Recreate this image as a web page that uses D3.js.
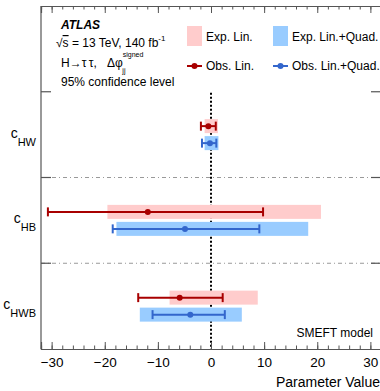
<!DOCTYPE html>
<html>
<head>
    <meta charset="utf-8">
    <script src="https://d3js.org/d3.v7.min.js"></script>
    <style>
        body { margin: 0; background: #fff; }
        text { font-family: "Liberation Sans", Arial, sans-serif; }
    </style>
</head>
<body>
<script>
// coefficients, top to bottom
var categories = ["cHW", "cHB", "cHWB"];
var subLabels = ["HW", "HB", "HWB"];

// expected 95% intervals (boxes)
var expLinLo = [-1.2, -19.5, -7.8];
var expLinHi = [1.3, 20.7, 8.8];
var expQuadLo = [-1.2, -17.8, -13.4];
var expQuadHi = [1.4, 18.3, 5.8];

// observed best fit + 95% intervals
var obsLin = [-0.5, -11.9, -5.9];
var obsLinLo = [-1.9, -30.7, -13.7];
var obsLinHi = [0.9, 9.8, 2.2];
var obsQuad = [-0.2, -4.9, -3.9];
var obsQuadLo = [-1.7, -18.5, -11.0];
var obsQuadHi = [1.0, 9.1, 2.6];

var majorTicks = [-30, -20, -10, 0, 10, 20, 30];
var minorTicks = d3.range(-32, 33, 2);

var W = 380, H = 391;
var x0 = 41, x1 = 381, yTop = 6, yBot = 349;

var svg = d3.select("body").append("svg")
    .attr("width", W).attr("height", H);

var x = d3.scaleLinear().domain([-32, 32]).range([x0, x1]);
var y = d3.scaleBand().domain(["legend"].concat(categories)).range([yTop, yBot]);

var red = "#a80000", redFill = "#ffcccc";
var blue = "#3366cc", blueFill = "#99ccff";

// separators between coefficients
categories.forEach(function (c, i) {
    var yy = y(c);
    if (i > 0) {
        svg.append("line")
            .attr("x1", x0).attr("x2", x1).attr("y1", yy).attr("y2", yy)
            .attr("stroke", "#999").attr("stroke-width", 1)
            .attr("stroke-dasharray", "4,3,1,3");
    }
    svg.append("line").attr("x1", x0).attr("x2", x0 + 10).attr("y1", yy).attr("y2", yy)
        .attr("stroke", "#555").attr("stroke-width", 1.2);
    svg.append("line").attr("x1", x1 - 10).attr("x2", x1).attr("y1", yy).attr("y2", yy)
        .attr("stroke", "#555").attr("stroke-width", 1.2);
});

// SM line at zero
svg.append("line")
    .attr("x1", x(0)).attr("x2", x(0))
    .attr("y1", y("cHW") + 1).attr("y2", yBot)
    .attr("stroke", "#000").attr("stroke-width", 2)
    .attr("stroke-dasharray", "2,2");

var bh = 14, off = 8.5, cap = 9;

function series(lo, hi, fill, best, olo, ohi, col, dy) {
    var g = svg.append("g");
    categories.forEach(function (c, i) {
        var cy = y(c) + y.bandwidth() / 2 + dy;
        g.append("rect")
            .attr("x", x(lo[i])).attr("width", x(hi[i]) - x(lo[i]))
            .attr("y", cy - bh / 2).attr("height", bh)
            .attr("fill", fill);
    });
    categories.forEach(function (c, i) {
        var cy = y(c) + y.bandwidth() / 2 + dy;
        g.append("line")
            .attr("x1", x(olo[i])).attr("x2", x(ohi[i]))
            .attr("y1", cy).attr("y2", cy)
            .attr("stroke", col).attr("stroke-width", 2);
        [olo[i], ohi[i]].forEach(function (v) {
            g.append("line")
                .attr("x1", x(v)).attr("x2", x(v))
                .attr("y1", cy - cap / 2).attr("y2", cy + cap / 2)
                .attr("stroke", col).attr("stroke-width", 2);
        });
        g.append("circle")
            .attr("cx", x(best[i])).attr("cy", cy).attr("r", 3)
            .attr("fill", col);
    });
}
series(expLinLo, expLinHi, redFill, obsLin, obsLinLo, obsLinHi, red, -off);
series(expQuadLo, expQuadHi, blueFill, obsQuad, obsQuadLo, obsQuadHi, blue, off);

// frame
svg.append("line").attr("x1", x0).attr("x2", x0).attr("y1", yTop).attr("y2", yBot)
    .attr("stroke", "#555").attr("stroke-width", 1.2);

var fmt = function (d) { return d < 0 ? "\u2212" + Math.abs(d) : d; };

var bottomAx = svg.append("g").attr("transform", "translate(0," + yBot + ")")
    .call(d3.axisBottom(x).tickValues(majorTicks).tickSize(-7).tickPadding(8).tickFormat(fmt));
var bottomMinor = svg.append("g").attr("transform", "translate(0," + yBot + ")")
    .call(d3.axisBottom(x).tickValues(minorTicks).tickSize(-3.5).tickFormat(""));
var topAx = svg.append("g").attr("transform", "translate(0," + yTop + ")")
    .call(d3.axisTop(x).tickValues(majorTicks).tickSize(-7).tickFormat(""));
var topMinor = svg.append("g").attr("transform", "translate(0," + yTop + ")")
    .call(d3.axisTop(x).tickValues(minorTicks).tickSize(-3.5).tickFormat(""));

[bottomAx, bottomMinor, topAx, topMinor].forEach(function (a) {
    a.select(".domain").attr("stroke", "#555").attr("stroke-width", 1.2);
    a.selectAll(".tick line").attr("stroke", "#555").attr("stroke-width", 1);
    a.selectAll("text").attr("font-size", 13.5).attr("fill", "#000")
        .style("font-family", "Liberation Sans, Arial, sans-serif");
});

// y labels
categories.forEach(function (c, i) {
    var cy = y(c) + y.bandwidth() / 2;
    var t = svg.append("text").attr("x", 36).attr("y", cy + 3)
        .attr("text-anchor", "end").attr("font-size", 14);
    t.append("tspan").text("c");
    t.append("tspan").attr("dy", 8).attr("font-size", 11).text(subLabels[i]);
});

// x title
svg.append("text").attr("x", 380).attr("y", 387)
    .attr("text-anchor", "end").attr("font-size", 14).text("Parameter Value");

svg.append("text").attr("x", 373).attr("y", 337)
    .attr("text-anchor", "end").attr("font-size", 12).text("SMEFT model");

// ATLAS labels
svg.append("text").attr("x", 61).attr("y", 29)
    .attr("font-size", 12).attr("font-weight", "bold").attr("font-style", "italic")
    .text("ATLAS");
var t1 = svg.append("text").attr("x", 56).attr("y", 47).attr("font-size", 12);
t1.append("tspan").text("\u221A");
t1.append("tspan").style("text-decoration", "overline").text("s");
t1.append("tspan").text(" = 13 TeV, 140 fb");
t1.append("tspan").attr("dy", -6).attr("font-size", 8).text("-1");

var t2 = svg.append("text").attr("x", 61).attr("y", 67).attr("font-size", 12);
t2.append("tspan").text("H\u2192\u03C4\u2009\u03C4,\u00a0\u00a0\u00a0\u0394\u03C6");
t2.append("tspan").attr("dy", -10).attr("font-size", 7).text("signed");
t2.append("tspan").attr("dx", -21).attr("dy", 16).attr("font-size", 7).text("jj");

svg.append("text").attr("x", 61).attr("y", 86).attr("font-size", 12)
    .text("95% confidence level");

// legend
var legBoxes = [
    { label: "Exp. Lin.", fill: redFill, x: 187 },
    { label: "Exp. Lin.+Quad.", fill: blueFill, x: 273 }
];
var legLines = [
    { label: "Obs. Lin.", col: red, x: 187 },
    { label: "Obs. Lin.+Quad.", col: blue, x: 273 }
];
legBoxes.forEach(function (d) {
    svg.append("rect").attr("x", d.x).attr("y", 26).attr("width", 15).attr("height", 20)
        .attr("fill", d.fill);
    svg.append("text").attr("x", d.x + 19).attr("y", 41).attr("font-size", 12).text(d.label);
});
legLines.forEach(function (d) {
    svg.append("line").attr("x1", d.x).attr("x2", d.x + 15).attr("y1", 66).attr("y2", 66)
        .attr("stroke", d.col).attr("stroke-width", 2);
    svg.append("circle").attr("cx", d.x + 7.5).attr("cy", 66).attr("r", 3).attr("fill", d.col);
    svg.append("text").attr("x", d.x + 19).attr("y", 70).attr("font-size", 12).text(d.label);
});
</script>
</body>
</html>
